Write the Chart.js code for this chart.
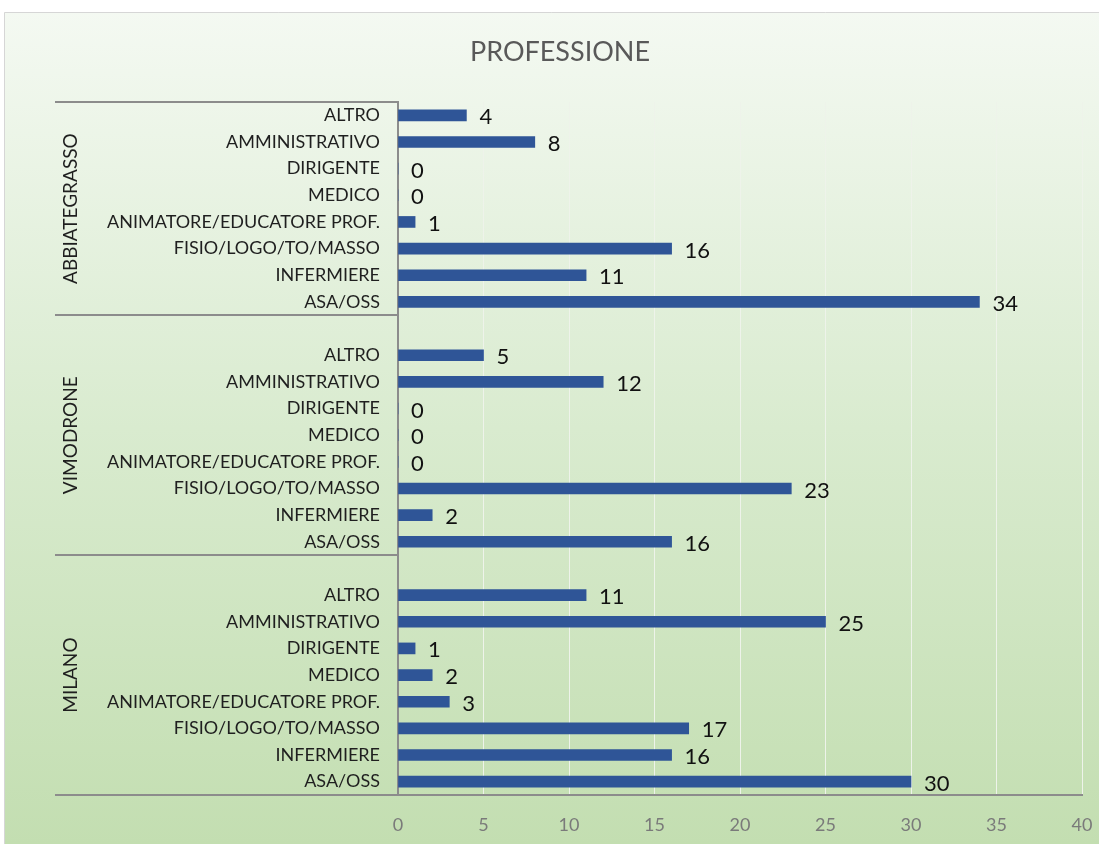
<!DOCTYPE html>
<html>
<head>
<meta charset="utf-8">
<script src="https://cdn.jsdelivr.net/npm/chart.js@4.4.1/dist/chart.umd.min.js"></script>
<style>
  html, body { margin: 0; padding: 0; background: #fff; }
  canvas { display: block; }
</style>
</head>
<body>
<canvas id="myChart" width="1099" height="844"></canvas>
<script>
const groups = ['ABBIATEGRASSO', 'VIMODRONE', 'MILANO'];
const professioni = ['ALTRO', 'AMMINISTRATIVO', 'DIRIGENTE', 'MEDICO', 'ANIMATORE/EDUCATORE PROF.', 'FISIO/LOGO/TO/MASSO', 'INFERMIERE', 'ASA/OSS'];
const abbiategrasso = [4, 8, 0, 0, 1, 16, 11, 34];
const vimodrone = [5, 12, 0, 0, 0, 23, 2, 16];
const milano = [11, 25, 1, 2, 3, 17, 16, 30];
const xTicks = [0, 5, 10, 15, 20, 25, 30, 35, 40];

const FONT = 'Lato';

// righe: un'etichetta vuota in testa ad ogni gruppo dopo il primo
const labels = [];
const values = [];
const groupRanges = [];
[abbiategrasso, vimodrone, milano].forEach((serie, g) => {
    const start = labels.length;
    if (g > 0) {
        labels.push('');
        values.push(null);
    }
    professioni.forEach((p, i) => {
        labels.push(p);
        values.push(serie[i]);
    });
    groupRanges.push([start, labels.length - 1]);
});

const decorPlugin = {
    id: 'decor',
    beforeDraw(chart) {
        const { ctx, width, height } = chart;
        ctx.save();
        ctx.fillStyle = '#ffffff';
        ctx.fillRect(0, 0, width, height);
        const grad = ctx.createLinearGradient(0, 12, 0, height);
        grad.addColorStop(0, '#f4f9f2');
        grad.addColorStop(0.5, '#d9ebcf');
        grad.addColorStop(1, '#c3deb1');
        ctx.fillStyle = grad;
        ctx.fillRect(4, 12, width, height);
        ctx.strokeStyle = '#d6d6d6';
        ctx.lineWidth = 1;
        ctx.beginPath();
        ctx.moveTo(4.5, height);
        ctx.lineTo(4.5, 12.5);
        ctx.lineTo(width, 12.5);
        ctx.stroke();
        ctx.restore();
    },
    afterDraw(chart) {
        const { ctx, chartArea } = chart;
        const y = chart.scales.y;
        const leftX = 55;
        ctx.save();

        // titolo
        ctx.fillStyle = '#595959';
        ctx.font = `27px ${FONT}`;
        ctx.textAlign = 'center';
        ctx.textBaseline = 'middle';
        ctx.fillText('PROFESSIONE', 560, 52);

        // linee di separazione dei gruppi
        const bounds = [chartArea.top];
        groupRanges.forEach((r, g) => {
            if (g < groupRanges.length - 1) {
                bounds.push((y.getPixelForTick(r[1]) + y.getPixelForTick(r[1] + 1)) / 2);
            }
        });
        bounds.push(chartArea.bottom);
        ctx.strokeStyle = '#8c8c8c';
        ctx.lineWidth = 2;
        bounds.forEach((b, i) => {
            ctx.beginPath();
            ctx.moveTo(leftX, Math.round(b));
            ctx.lineTo(i === bounds.length - 1 ? chartArea.right : chartArea.left, Math.round(b));
            ctx.stroke();
        });

        // etichette dei gruppi, ruotate
        ctx.fillStyle = '#1f1f1f';
        ctx.font = `19px ${FONT}`;
        groups.forEach((g, i) => {
            const cy = (bounds[i] + bounds[i + 1]) / 2;
            ctx.save();
            ctx.translate(71, cy);
            ctx.rotate(-Math.PI / 2);
            ctx.textAlign = 'center';
            ctx.textBaseline = 'middle';
            ctx.fillText(g, 0, 0);
            ctx.restore();
        });

        // valori a destra delle barre
        const meta = chart.getDatasetMeta(0);
        ctx.fillStyle = '#111111';
        ctx.font = `22px ${FONT}`;
        ctx.textAlign = 'left';
        ctx.textBaseline = 'middle';
        meta.data.forEach((bar, i) => {
            const v = values[i];
            if (v === null) return;
            ctx.fillText(String(v), bar.x + 13, bar.y + 2);
        });
        ctx.restore();
    }
};

const ctx = document.getElementById('myChart').getContext('2d');
window.myChart = new Chart(ctx, {
    type: 'bar',
    data: {
        labels: labels,
        datasets: [{
            data: values,
            backgroundColor: '#2f5597',
            barThickness: 11
        }]
    },
    options: {
        indexAxis: 'y',
        responsive: false,
        animation: false,
        layout: { padding: { top: 102, right: 17, bottom: 0, left: 0 } },
        plugins: {
            legend: { display: false },
            tooltip: { enabled: false },
            title: { display: false }
        },
        scales: {
            x: {
                min: 0,
                max: 40,
                afterBuildTicks: scale => {
                    scale.ticks = xTicks.map(v => ({ value: v }));
                },
                afterFit: scale => {
                    scale.height = 49;
                    scale.paddingLeft = 0;
                    scale.paddingRight = 0;
                },
                grid: { color: '#eef3ea', lineWidth: 1, drawTicks: false },
                border: { display: true, color: '#8c8c8c', width: 2 },
                ticks: {
                    padding: 19,
                    color: '#7a7a7a',
                    font: { family: FONT, size: 18 }
                }
            },
            y: {
                afterFit: scale => { scale.width = 398; },
                grid: { display: false, drawTicks: false },
                border: { display: true, color: '#8c8c8c', width: 2 },
                ticks: {
                    autoSkip: false,
                    padding: 18,
                    color: '#1f1f1f',
                    font: { family: FONT, size: 18 }
                }
            }
        }
    },
    plugins: [decorPlugin]
});
</script>
</body>
</html>
